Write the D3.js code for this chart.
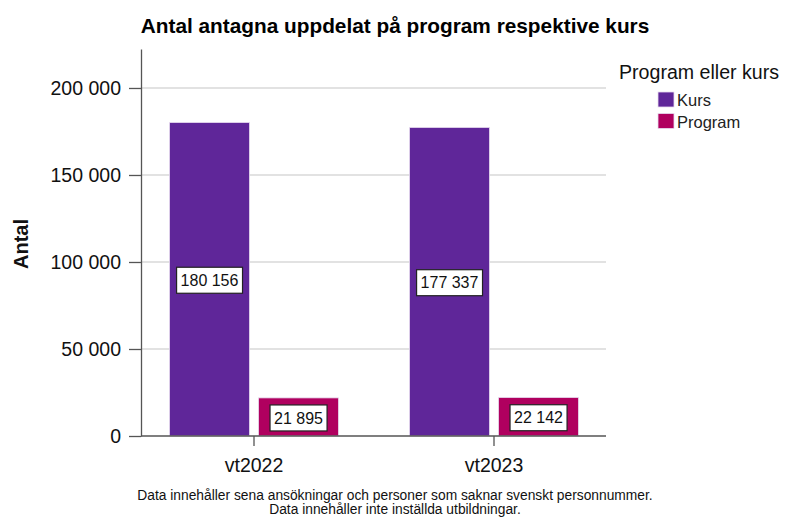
<!DOCTYPE html>
<html>
<head>
<meta charset="utf-8">
<script src="https://cdn.jsdelivr.net/npm/d3@7"></script>
<style>
  body { margin: 0; background: #fff; }
  svg { display: block; font-family: "Liberation Sans", Arial, sans-serif; }
</style>
</head>
<body>
<svg id="chart" width="786" height="518"></svg>
<script>
const terms = ["vt2022", "vt2023"];
const types = ["Kurs", "Program"];
const kurs = [180156, 177337];
const program = [21895, 22142];
const yTicks = [0, 50000, 100000, 150000, 200000];
const colors = ["#5f2699", "#b0005f"];

const svg = d3.select("#chart");
const plot = { left: 141, right: 606, top: 49, bottom: 436 };

const fmt = v => d3.format(",")(v).replace(/,/g, " ");

const y = d3.scaleLinear()
  .domain([0, 222400])
  .range([plot.bottom, plot.top]);

const x = d3.scaleBand()
  .domain(terms)
  .range([134, 614])
  .padding(0);

const xSub = d3.scaleBand()
  .domain(types)
  .range([0, x.bandwidth()])
  .paddingInner(0.101)
  .paddingOuter(0.399);

const color = d3.scaleOrdinal().domain(types).range(colors);

// gridlines
svg.append("g")
  .selectAll("line")
  .data(yTicks.filter(d => d > 0))
  .join("line")
  .attr("x1", plot.left).attr("x2", plot.right)
  .attr("y1", d => y(d)).attr("y2", d => y(d))
  .attr("stroke", "#d9d9d9")
  .attr("stroke-width", 1.5);

// bars
const rows = terms.map((t, i) => ({ term: t, values: [
  { type: "Kurs", value: kurs[i] },
  { type: "Program", value: program[i] }
] }));

const groups = svg.append("g")
  .selectAll("g")
  .data(rows)
  .join("g")
  .attr("transform", d => `translate(${x(d.term)},0)`);

groups.selectAll("rect")
  .data(d => d.values)
  .join("rect")
  .attr("x", d => xSub(d.type))
  .attr("y", d => y(d.value))
  .attr("width", xSub.bandwidth())
  .attr("height", d => y(0) - y(d.value))
  .attr("fill", d => color(d.type))
  .attr("stroke", "#e8dcf0")
  .attr("stroke-width", 0.8);

// value labels
const labels = groups.selectAll("g.lab")
  .data(d => d.values)
  .join("g")
  .attr("class", "lab")
  .attr("transform", d => `translate(${xSub(d.type) + xSub.bandwidth() / 2},${(y(d.value) + y(0)) / 2 + 1})`);

labels.append("text")
  .attr("text-anchor", "middle")
  .attr("dy", "0.35em")
  .attr("font-size", 16)
  .attr("fill", "#111")
  .text(d => fmt(d.value))
  .each(function () {
    const b = this.getBBox();
    d3.select(this.parentNode).insert("rect", "text")
      .attr("x", b.x - 4).attr("y", -13)
      .attr("width", b.width + 8).attr("height", 26)
      .attr("fill", "#fff")
      .attr("stroke", "#222")
      .attr("stroke-width", 1.2);
  });

// y axis
const yAxis = svg.append("g")
  .attr("transform", `translate(${plot.left},0)`)
  .call(d3.axisLeft(y).tickValues(yTicks).tickSize(12).tickSizeOuter(0).tickFormat(fmt));
yAxis.select(".domain").attr("stroke", "#555").attr("stroke-width", 1.3);
yAxis.selectAll(".tick line").attr("stroke", "#555").attr("stroke-width", 1.3);
yAxis.selectAll(".tick text")
  .attr("font-size", 19.5)
  .attr("fill", "#111")
  .attr("x", -20)
  .attr("font-family", "Liberation Sans, Arial, sans-serif");

// x axis
const xAxis = svg.append("g")
  .attr("transform", `translate(0,${plot.bottom})`)
  .call(d3.axisBottom(x).tickSize(10).tickSizeOuter(0));
xAxis.select(".domain").remove();
xAxis.append("line")
  .attr("x1", plot.left).attr("x2", plot.right)
  .attr("stroke", "#555").attr("stroke-width", 1.3);
xAxis.selectAll(".tick line").attr("stroke", "#555").attr("stroke-width", 1.3);
xAxis.selectAll(".tick text")
  .attr("font-size", 19.5)
  .attr("fill", "#111")
  .attr("y", 22)
  .attr("font-family", "Liberation Sans, Arial, sans-serif");

// axis title
svg.append("text")
  .attr("transform", "translate(28,244) rotate(-90)")
  .attr("text-anchor", "middle")
  .attr("font-size", 20)
  .attr("font-weight", "bold")
  .attr("fill", "#111")
  .text("Antal");

// title
svg.append("text")
  .attr("x", 395).attr("y", 33)
  .attr("text-anchor", "middle")
  .attr("font-size", 20.8)
  .attr("font-weight", "bold")
  .attr("fill", "#000")
  .text("Antal antagna uppdelat på program respektive kurs");

// legend
const legend = svg.append("g");
legend.append("text")
  .attr("x", 619).attr("y", 79)
  .attr("font-size", 19.6)
  .attr("fill", "#111")
  .text("Program eller kurs");
const items = legend.selectAll("g.item")
  .data(types)
  .join("g")
  .attr("class", "item")
  .attr("transform", (d, i) => `translate(658,${92 + i * 21.5})`);
items.append("rect")
  .attr("width", 16).attr("height", 15)
  .attr("fill", d => color(d))
  .attr("stroke", "#e8dcf0").attr("stroke-width", 0.8);
items.append("text")
  .attr("x", 19).attr("y", 14)
  .attr("font-size", 16.5)
  .attr("fill", "#222")
  .text(d => d);

// footnote
const notes = ["Data innehåller sena ansökningar och personer som saknar svenskt personnummer.",
  "Data innehåller inte inställda utbildningar."];
svg.append("g")
  .selectAll("text")
  .data(notes)
  .join("text")
  .attr("x", 395).attr("y", (d, i) => 500 + i * 14)
  .attr("text-anchor", "middle")
  .attr("font-size", 13.8)
  .attr("fill", "#111")
  .text(d => d);
</script>
</body>
</html>
